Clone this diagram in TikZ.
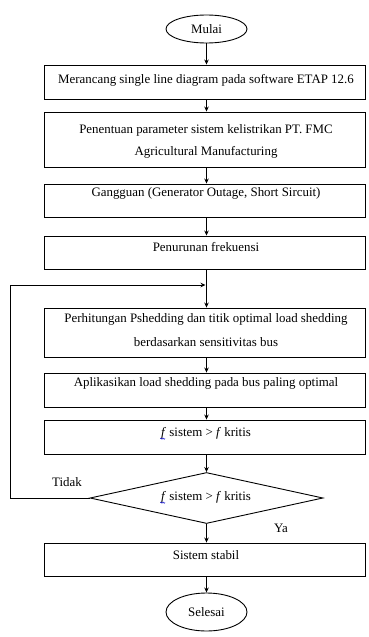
\documentclass[tikz,border=0pt]{standalone}
\usepackage{fontspec}
\setmainfont{Liberation Serif}
\usetikzlibrary{shapes.geometric,arrows.meta,calc,decorations.pathmorphing}
\begin{document}
\begin{tikzpicture}[x=1pt,y=-1pt,
  line width=0.9pt,
  boxnode/.style={draw, rectangle, minimum width=321pt, inner sep=0pt},
  txt/.style={inner sep=0pt, font=\fontsize{12.9}{15}\selectfont},
  term/.style={draw, ellipse, minimum width=81pt, inner sep=0pt, font=\fontsize{12.9}{15}\selectfont},
  arr/.style={-{Stealth[length=5pt,width=4.5pt]}}
]
\useasboundingbox (0,0) rectangle (369,637);
% terminals
\node[term, minimum height=28pt] (start) at (206.5,29) {Mulai};
\node[term, minimum height=38pt] (stop) at (206.5,612) {Selesai};
% boxes
\node[boxnode, minimum height=34pt] (b1) at (204.5,82) {};
\node[txt] (t1) at (206,80) {Merancang single line diagram pada software ETAP 12.6};
\node[boxnode, minimum height=55pt] (b2) at (204.5,139.5) {};
\node[txt] (t2a) at (206,130) {Penentuan parameter sistem kelistrikan PT. FMC};
\node[txt] (t2b) at (206,152) {Agricultural Manufacturing};
\node[boxnode, minimum height=33pt] (b3) at (204.5,200.5) {};
\node[txt] (t3) at (206,193) {Gangguan (Generator Outage, Short Sircuit)};
\node[boxnode, minimum height=33pt] (b4) at (204.5,252.5) {};
\node[txt] (t4) at (206,247) {Penurunan frekuensi};
\node[boxnode, minimum height=49pt] (b5) at (204.5,332.5) {};
\node[txt] (t5a) at (206,319) {Perhitungan Pshedding dan titik optimal load shedding};
\node[txt] (t5b) at (206,342) {berdasarkan sensitivitas bus};
\node[boxnode, minimum height=34pt] (b6) at (204.5,390) {};
\node[txt] (t6) at (206,383) {Aplikasikan load shedding pada bus paling optimal};
\node[boxnode, minimum height=34pt] (b7) at (204.5,437) {};
\node[txt] (t7) at (206,433) {\textit{f} sistem > \textit{f} kritis};
\node[draw, diamond, aspect=4.57, minimum width=233pt, minimum height=51pt, inner sep=0pt] (dec) at (206.5,498) {};
\node[txt] (td) at (206,497) {\textit{f} sistem > \textit{f} kritis};
\node[boxnode, minimum height=33pt] (b8) at (204.5,559.5) {};
\node[txt] (t8) at (206,555) {Sistem stabil};
% labels
\node[txt] (tidak) at (67,482) {Tidak};
\node[txt] (ya) at (281,528) {Ya};
% spell-check squiggles
\draw[blue!80!black, line width=0.4pt, decorate, decoration={snake, amplitude=0.7pt, segment length=2.2pt}] ($(t7.base west)+(-0.5,2.5)$) -- ++(5,0);
\draw[blue!80!black, line width=0.4pt, decorate, decoration={snake, amplitude=0.7pt, segment length=2.2pt}] ($(td.base west)+(-0.5,2.5)$) -- ++(5,0);
% connectors
\draw[arr] (start.south) -- (start.south |- b1.north);
\draw[arr] (b1.south -| start.south) -- (start.south |- b2.north);
\draw[arr] (b2.south -| start.south) -- (start.south |- b3.north);
\draw[arr] (b3.south -| start.south) -- (start.south |- b4.north);
\draw[arr] (b4.south -| start.south) -- (start.south |- b5.north);
\draw[arr] (b5.south -| start.south) -- (start.south |- b6.north);
\draw[arr] (b6.south -| start.south) -- (start.south |- b7.north);
\draw[arr] (b7.south -| start.south) -- (dec.north);
\draw[arr] (dec.south) -- (start.south |- b8.north);
\draw[arr] (b8.south -| start.south) -- (stop.north);
\coordinate (loopin) at (205.5,285);
\draw[arr] (dec.west) -- (10,498) -- (10,285) -- (loopin);
\end{tikzpicture}
\end{document}
